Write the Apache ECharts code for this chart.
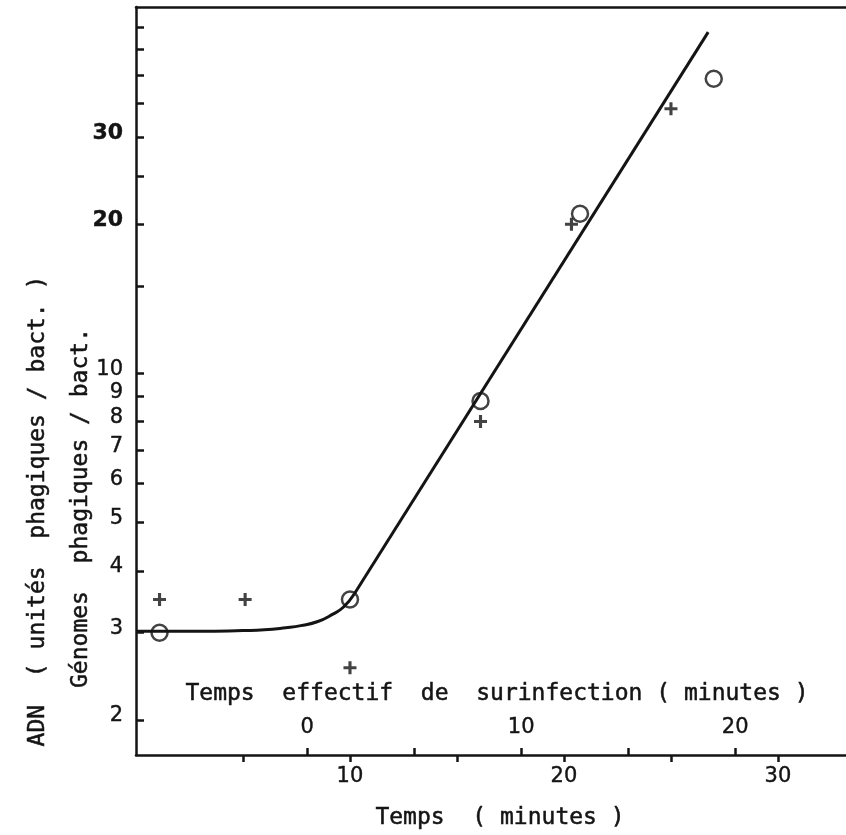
<!DOCTYPE html>
<html>
<head>
<meta charset="utf-8">
<script src="https://cdn.jsdelivr.net/npm/echarts@6/dist/echarts.min.js"></script>
<style>
  html, body { margin: 0; padding: 0; background: #fff; }
  #chart { width: 846px; height: 835px; }
</style>
</head>
<body>
<div id="chart"></div>
<script>
// Measured DNA per bacterium (phage units) — open circles
const adnX = [1.1, 10.0, 16.1, 20.75, 27.0];
const adnY = [3.0, 3.5, 8.8, 21.0, 39.3];

// Phage genomes per bacterium — crosses
const genX = [1.1, 5.1, 10.0, 16.1, 20.35, 25.0];
const genY = [3.5, 3.5, 2.55, 8.0, 20.0, 34.2];

// Fitted curve: plateau then bend
const curveX = [0, 3, 5, 6, 7, 7.7, 8.5, 9.2, 9.7, 10.2];
const curveY = [3.02, 3.02, 3.03, 3.04, 3.07, 3.10, 3.16, 3.27, 3.38, 3.59];
// Fitted curve: exponential (straight on log scale) part
const lineX = [10.2, 26.74];
const lineY = [3.59, 48.8];

// Axis ticks and labels
const yTicks = [2, 3, 4, 5, 6, 7, 8, 9, 10, 15, 20, 25, 30, 35, 40, 45, 50];
const yLabels = [2, 3, 4, 5, 6, 7, 8, 9, 10, 20, 30];
const xTicks = [5, 10, 15, 20, 25, 30];
const xLabels = [10, 20, 30];
const effTicks = [0, 5, 10, 15, 20];
const effLabels = [0, 10, 20];
const EFF_OFFSET = 8; // effective superinfection time = time - 8 min

const INK = '#141414';
const FONT = 'DejaVu Sans';
const TITLE_FONT = '23px "DejaVu Sans Mono"';

const X_MAX = 33.18;
const pairs = (xs, ys) => xs.map((x, i) => [x, ys[i]]);

const chart = echarts.init(document.getElementById('chart'), null, { renderer: 'canvas' });

const plusPath = 'path://M3.8,0h2.4v3.8h3.8v2.4h-3.8v3.8h-2.4v-3.8h-3.8v-2.4h3.8z';
const frameLine = { show: true, lineStyle: { color: INK, width: 2.5 } };
// slightly heavier lettering for the numbers
const numText = { color: INK, fontFamily: FONT, fontSize: 21, textBorderColor: INK, textBorderWidth: 0.4 };
const titleStyle = (text) => ({ text, fill: INK, stroke: INK, lineWidth: 0.5,
  font: TITLE_FONT, align: 'center', verticalAlign: 'middle' });

chart.setOption({
  backgroundColor: '#ffffff',
  animation: false,
  grid: { left: 136, top: 7, right: 0, bottom: 80, show: false },
  xAxis: [
    {
      type: 'value', position: 'bottom', min: 0, max: X_MAX,
      axisLine: frameLine,
      axisTick: { show: true, inside: false, length: 7, customValues: xTicks, lineStyle: { color: INK, width: 2.5 } },
      axisLabel: Object.assign({ show: true, customValues: xLabels, margin: 11 }, numText),
      splitLine: { show: false }
    },
    {
      type: 'value', position: 'bottom', min: -EFF_OFFSET, max: X_MAX - EFF_OFFSET,
      axisLine: { show: false },
      axisTick: { show: true, inside: true, length: 7, customValues: effTicks, lineStyle: { color: INK, width: 2.5 } },
      axisLabel: Object.assign({ show: true, inside: true, customValues: effLabels, margin: 17 }, numText),
      splitLine: { show: false }
    },
    {
      // top frame edge
      type: 'value', position: 'top', min: 0, max: X_MAX,
      axisLine: frameLine,
      axisTick: { show: false }, axisLabel: { show: false }, splitLine: { show: false }
    }
  ],
  yAxis: {
    type: 'log', logBase: 10, min: 1.70, max: 54.85,
    axisLine: frameLine,
    axisTick: { show: true, inside: true, length: 8, customValues: yTicks, lineStyle: { color: INK, width: 2.5 } },
    axisLabel: Object.assign({
      show: true, customValues: yLabels, margin: 13,
      padding: [0, 0, 8, 0],
      formatter: v => (v >= 20 ? '{b|' + v + '}' : String(v)),
      rich: { b: { fontFamily: FONT, fontSize: 22, fontWeight: 'bold', color: INK } }
    }, numText),
    splitLine: { show: false }
  },
  series: [
    {
      name: 'courbe', type: 'line', xAxisIndex: 0, data: pairs(curveX, curveY),
      smooth: 0.5, showSymbol: false, symbol: 'none',
      lineStyle: { color: INK, width: 3 }, z: 2
    },
    {
      name: 'droite', type: 'line', xAxisIndex: 0, data: pairs(lineX, lineY),
      showSymbol: false, symbol: 'none',
      lineStyle: { color: INK, width: 3 }, z: 2
    },
    {
      name: 'ADN', type: 'scatter', xAxisIndex: 0, data: pairs(adnX, adnY),
      symbol: 'circle', symbolSize: 16,
      itemStyle: { color: 'rgba(0,0,0,0)', borderColor: INK, borderWidth: 2.5 }, z: 3
    },
    {
      name: 'Génomes', type: 'scatter', xAxisIndex: 0, data: pairs(genX, genY),
      symbol: plusPath, symbolSize: 13,
      itemStyle: { color: INK }, z: 3
    }
  ],
  graphic: [
    { type: 'text', x: 497, y: 694, style: titleStyle('Temps  effectif  de  surinfection ( minutes )') },
    { type: 'text', x: 500, y: 818, style: titleStyle('Temps  ( minutes )') },
    { type: 'text', x: 38, y: 511, rotation: Math.PI / 2, style: titleStyle('ADN  ( unités  phagiques / bact. )') },
    { type: 'text', x: 81, y: 508, rotation: Math.PI / 2, style: titleStyle('Génomes  phagiques / bact.') }
  ]
});
</script>
</body>
</html>
